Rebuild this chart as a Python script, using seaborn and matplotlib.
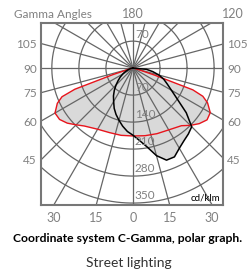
import numpy as np
import pandas as pd
import matplotlib
matplotlib.use('Agg')
import matplotlib.pyplot as plt
import seaborn as sns

# photometric data, cd/klm against gamma angle (degrees from nadir)
gamma_red = [0, 10, 20, 30, 40, 45, 50, 55, 60, 65, 68, 70, 72, 75, 80, 90]
red_c0 = [176, 178, 181, 185, 195, 210, 224, 234, 231, 213, 195, 165, 60, 15, 5, 0]
red_c180 = [176, 177, 178, 183, 196, 208, 222, 232, 233, 216, 198, 160, 55, 12, 4, 0]

gamma_black = [0, 5, 10, 15, 20, 25, 30, 35, 40, 45, 50, 55, 60, 65, 70, 75, 80, 85, 90]
black_c90 = [174, 188, 207, 235, 254, 254, 240, 230, 223, 215, 180, 140, 115, 98, 85, 70, 52, 35, 0]
black_c270 = [174, 165, 153, 140, 128, 115, 100, 88, 75, 62, 50, 40, 30, 22, 15, 10, 6, 3, 0]

ring_values = [70, 140, 210, 280, 350]
side_angles = [105, 90, 75, 60, 45]
bottom_angles = [-30, -15, 0, 15, 30]

XLIM = (-238, 233)
YLIM = (-355, 117)
GRID = '#666666'
LABEL = '#808080'

sns.set_theme(style='white')
plt.rcParams['font.family'] = ['Lato', 'DejaVu Sans']


def outline(gamma, right, left):
    """Closed curve: left half-plane from 90 down to 0, then right half 0 to 90."""
    g = np.radians(gamma)
    right = np.asarray(right, float)
    left = np.asarray(left, float)
    x = np.concatenate([-(left * np.sin(g))[::-1], (right * np.sin(g))[1:]])
    y = np.concatenate([-(left * np.cos(g))[::-1], -(right * np.cos(g))[1:]])
    return pd.DataFrame({'x': x, 'y': y})


red = outline(gamma_red, red_c0, red_c180)
black = outline(gamma_black, black_c90, black_c270)

fig = plt.figure(figsize=(2.49, 2.77), dpi=100)
ax = fig.add_axes([41 / 249, 1 - 205 / 277, 182 / 249, 182 / 277])

# filled light distribution
ax.fill(red['x'], red['y'], color='#d9d9d9', lw=0, zorder=0)
ax.fill(black['x'], black['y'], color='#d9d9d9', lw=0, zorder=0)

# polar grid
t = np.linspace(0, 2 * np.pi, 361)
for r in ring_values:
    ax.plot(r * np.cos(t), r * np.sin(t), color=GRID, lw=0.9, zorder=1)
for a in range(0, 360, 15):
    ar = np.radians(a)
    ax.plot([0, 600 * np.sin(ar)], [0, -600 * np.cos(ar)], color=GRID, lw=0.9, zorder=1)

sns.lineplot(data=red, x='x', y='y', sort=False, estimator=None, color='#e8141c',
             lw=1.0, ax=ax, zorder=3)
sns.lineplot(data=black, x='x', y='y', sort=False, estimator=None, color='black',
             lw=1.1, ax=ax, zorder=4)

# ring labels
for r in ring_values:
    ax.text(5, -r + 5, str(r), ha='left', va='bottom', color=LABEL, fontsize=8.5, zorder=5)
ax.text(5, ring_values[0] + 3, str(ring_values[0]), ha='left', va='bottom',
        color=LABEL, fontsize=8.5, zorder=5)
ax.text(0.985, 0.015, 'cd/klm', transform=ax.transAxes, ha='right', va='bottom',
        color='black', fontsize=7, zorder=5)

ax.set_xlim(*XLIM)
ax.set_ylim(*YLIM)

# gamma tick labels where the radial lines meet the frame
side_y = [XLIM[0] / np.tan(np.radians(a)) if a != 90 else 0 for a in side_angles]
ax.set_yticks(side_y, [str(a) for a in side_angles])
bottom_x = [-YLIM[0] * np.tan(np.radians(a)) for a in bottom_angles]
ax.set_xticks(bottom_x, [str(abs(a)) for a in bottom_angles])
ax.tick_params(axis='y', length=0, pad=3, labelsize=8.5, labelcolor=LABEL,
               left=True, right=True, labelleft=True, labelright=True)
ax.tick_params(axis='x', length=0, pad=5, labelsize=9, labelcolor=LABEL)
ax.set_xlabel('')
ax.set_ylabel('')

for s in ax.spines.values():
    s.set_color('#777777')
    s.set_linewidth(1.5)
    s.set_visible(True)

fig.text(53 / 249, 1 - 14 / 277, 'Gamma Angles', ha='center', va='center',
         color=LABEL, fontsize=8.5)
fig.text(133 / 249, 1 - 14 / 277, '180', ha='center', va='center', color=LABEL, fontsize=9)
fig.text(233 / 249, 1 - 14 / 277, '120', ha='center', va='center', color=LABEL, fontsize=9)
fig.text(0.512, 1 - 238 / 277, 'Coordinate system C-Gamma, polar graph.', ha='center',
         va='center', color='black', fontsize=8.7, fontweight='bold')
fig.text(0.518, 1 - 263 / 277, 'Street lighting', ha='center', va='center',
         color='#333333', fontsize=10)

fig.savefig('out.png', dpi=100)
